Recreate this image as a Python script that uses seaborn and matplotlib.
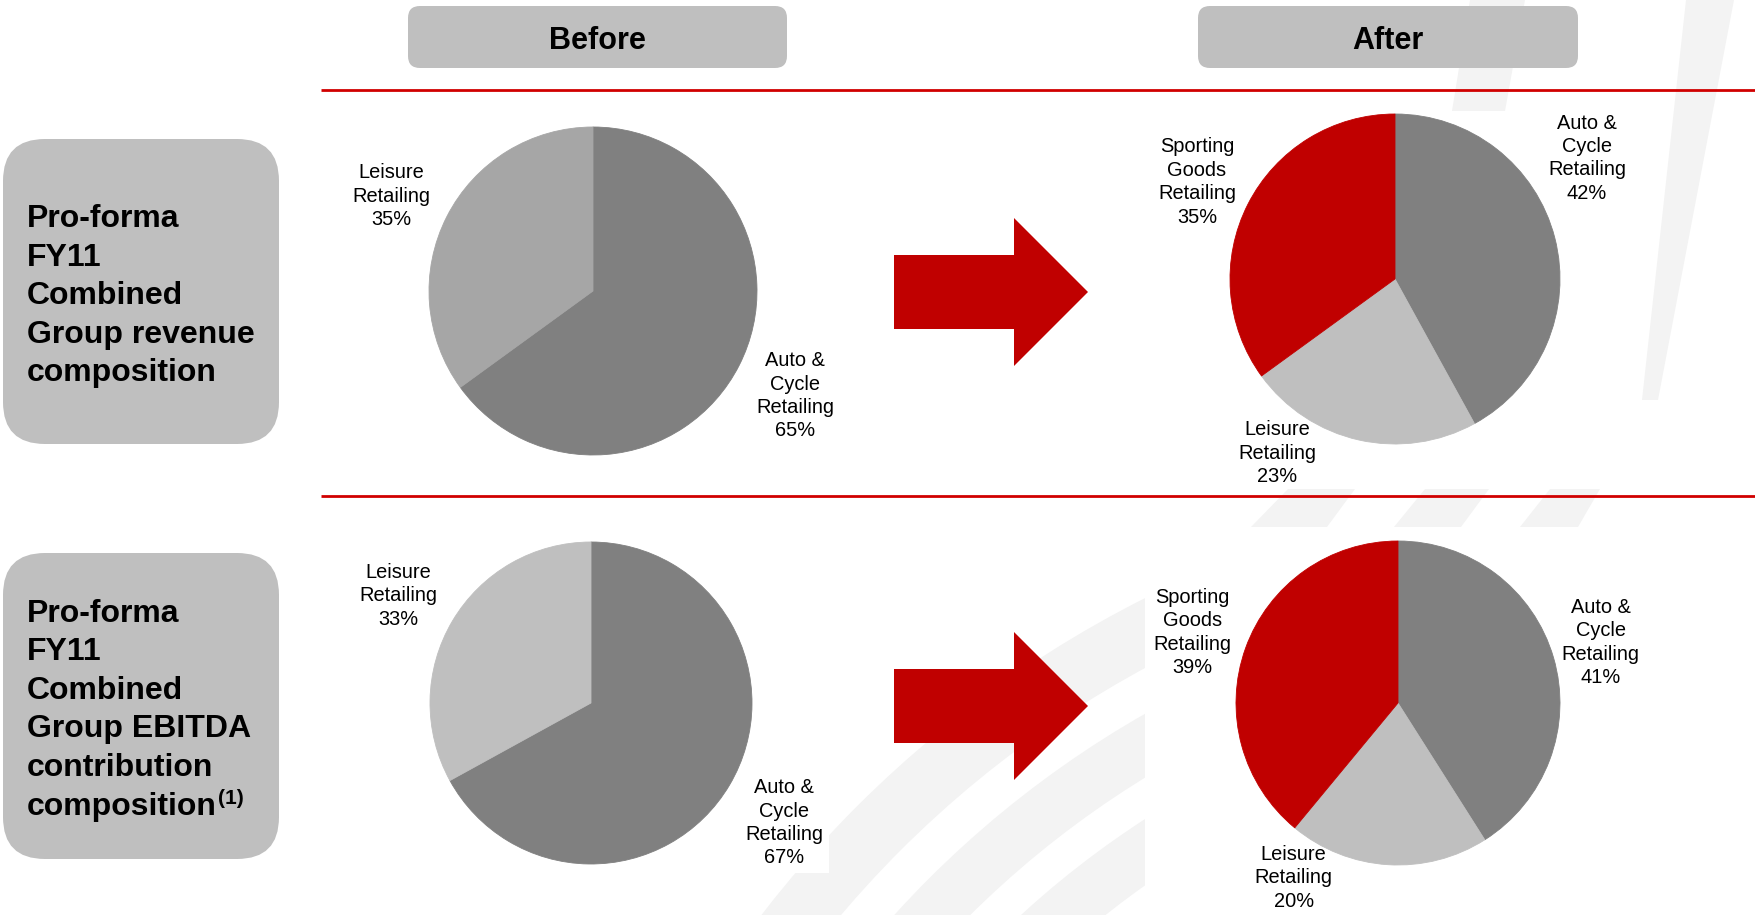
import matplotlib
matplotlib.use("Agg")
import matplotlib.pyplot as plt
import seaborn as sns
from matplotlib.patches import FancyBboxPatch, Polygon, Wedge, Rectangle

sns.set_theme(style="white")
plt.rcParams['font.family'] = ['Liberation Sans', 'DejaVu Sans']

# ---------------- data ----------------
column_titles = ["Before", "After"]
row_titles = [
    "Pro-forma\nFY11\nCombined\nGroup revenue\ncomposition",
    "Pro-forma\nFY11\nCombined\nGroup EBITDA\ncontribution\ncomposition",
]
row_footnotes = ["", "(1)"]
before_segments = ["Auto &\nCycle\nRetailing", "Leisure\nRetailing"]
after_segments = ["Auto &\nCycle\nRetailing", "Leisure\nRetailing", "Sporting\nGoods\nRetailing"]
revenue_before = [65, 35]
revenue_after = [42, 23, 35]
ebitda_before = [67, 33]
ebitda_after = [41, 20, 39]

# ---------------- styles / layout ----------------
AUTO, LEIS_DARK, LEIS, SPORT = "#808080", "#A6A6A6", "#BFBFBF", "#C00000"
BOX = "#BFBFBF"
LINE_RED = "#D00000"
WATER = "#F3F3F3"
W, H = 1756, 915

fig = plt.figure(figsize=(W / 100, H / 100), dpi=100)
fig.patch.set_facecolor("white")
bg = fig.add_axes([0, 0, 1, 1])
bg.set_xlim(0, W)
bg.set_ylim(H, 0)
bg.axis("off")

# faint watermark shapes
for pts in [
    [(1470, 0), (1525, 0), (1505, 111), (1452, 111)],
    [(1686, 0), (1734, 0), (1658, 400), (1642, 400)],
    [(1288, 489), (1355, 489), (1327, 527), (1251, 527)],
    [(1425, 489), (1489, 489), (1461, 527), (1394, 527)],
    [(1550, 489), (1600, 489), (1578, 527), (1520, 527)],
]:
    bg.add_patch(Polygon(pts, closed=True, facecolor=WATER, edgecolor="none", zorder=0))

clip = Rectangle((650, 527), 495, 388, transform=bg.transData)
for r_out, wid in [(1122, 62), (1020, 55), (930, 55)]:
    wdg = Wedge((1650, 1600), r_out, 0, 360, width=wid, facecolor=WATER,
                edgecolor="none", zorder=0)
    bg.add_patch(wdg)
    wdg.set_clip_path(clip)

# header boxes
for title, (x0, wbox) in zip(column_titles, [(408, 379), (1198, 380)]):
    bg.add_patch(FancyBboxPatch((x0, 6), wbox, 62,
                                boxstyle="round,pad=0,rounding_size=12",
                                facecolor=BOX, edgecolor="none", zorder=1))
    bg.text(x0 + wbox / 2, 49, title, ha="center", va="baseline",
            fontsize=22, fontweight="bold", color="black", zorder=2)

# red separators
for yy in [90, 496]:
    bg.plot([321, W], [yy, yy], color=LINE_RED, lw=2.0, solid_capstyle="butt", zorder=3)

# row boxes with line-by-line titles
renderer = fig.canvas.get_renderer()
for title, note, (y0, hbox, base0) in zip(row_titles, row_footnotes,
                                          [(139, 305, 227), (553, 306, 622)]):
    bg.add_patch(FancyBboxPatch((3, y0), 276, hbox,
                                boxstyle="round,pad=0,rounding_size=42",
                                facecolor=BOX, edgecolor="none", zorder=1))
    last = None
    lines = title.split("\n")
    for i, line in enumerate(lines):
        last = bg.text(27, base0 + i * 38.5, line, ha="left", va="baseline",
                       fontsize=23, fontweight="bold", color="black", zorder=2)
    if note:
        ext = last.get_window_extent(renderer=renderer)
        x_end = ext.x1
        bg.text(x_end + 1, base0 + (len(lines) - 1) * 38.5 - 11, note, ha="left",
                va="baseline", fontsize=15, fontweight="bold", color="black", zorder=2)

# arrows
for cy in [292, 706]:
    pts = [(894, cy - 37), (1014, cy - 37), (1014, cy - 74), (1088, cy),
           (1014, cy + 74), (1014, cy + 37), (894, cy + 37)]
    bg.add_patch(Polygon(pts, closed=True, facecolor=SPORT, edgecolor="none", zorder=2))


def draw_pie(cx, cy, r, values, names, colors, label_xy, white_box=False):
    ax = fig.add_axes([(cx - r) / W, 1 - (cy + r) / H, 2 * r / W, 2 * r / H])
    labels = [f"{n}\n{v}%" for n, v in zip(names, values)]
    wedges, texts = ax.pie(values, labels=labels, colors=colors, startangle=90,
                           counterclock=False, radius=1, labeldistance=1.3,
                           wedgeprops=dict(linewidth=0.6),
                           textprops=dict(fontsize=14.4, color="black"))
    for wdg, c in zip(wedges, colors):
        wdg.set_edgecolor(c)
    for t, (lx, ly) in zip(texts, label_xy):
        t.set_position((lx, ly))
        t.set_ha("center")
        t.set_va("center")
        t.set_linespacing(1.29)
        if white_box:
            t.set_bbox(dict(facecolor="white", edgecolor="none", pad=4))
    ax.set_xlim(-1, 1)
    ax.set_ylim(-1, 1)
    ax.set_aspect("equal")
    ax.axis("off")
    return ax


draw_pie(593, 291, 164, revenue_before, before_segments, [AUTO, LEIS_DARK],
         [(1.232, -0.640), (-1.232, 0.579)])
draw_pie(1395, 279, 165, revenue_after, after_segments, [AUTO, LEIS, SPORT],
         [(1.164, 0.733), (-0.715, -1.055), (-1.200, 0.588)])
draw_pie(591, 703, 161, ebitda_before, before_segments, [AUTO, LEIS],
         [(1.199, -0.745), (-1.199, 0.665)], white_box=True)
draw_pie(1398, 703, 162, ebitda_after, after_segments, [AUTO, LEIS, SPORT],
         [(1.252, 0.374), (-0.644, -1.080), (-1.270, 0.436)])

fig.savefig("out.png", dpi=100, facecolor="white")
